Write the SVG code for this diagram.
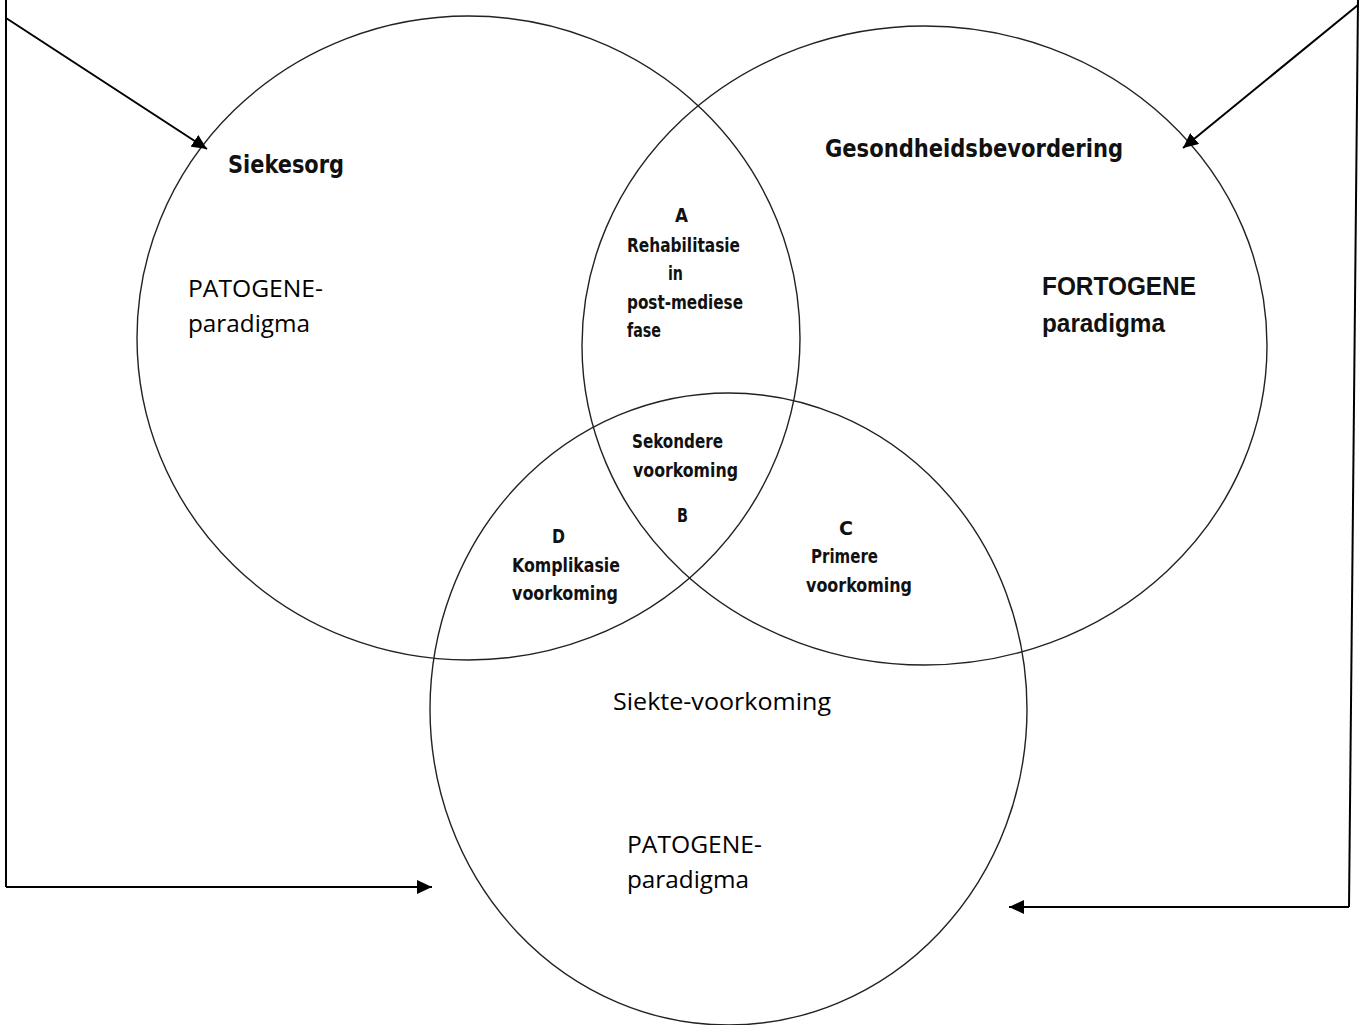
<svg xmlns="http://www.w3.org/2000/svg" width="1361" height="1025" viewBox="0 0 1361 1025">
<style>
.c{fill:none;stroke:#222;stroke-width:1.4}
.l{fill:none;stroke:#000;stroke-width:2}
.h{font-family:"DejaVu Sans Condensed","DejaVu Sans",sans-serif;font-weight:bold;font-size:25px;fill:#111}
.s{font-family:"DejaVu Sans Condensed","DejaVu Sans",sans-serif;font-weight:bold;font-size:19px;fill:#111}
.p{font-family:"Open Sans","Noto Sans",sans-serif;font-size:23px;fill:#000}
.f{font-family:"Liberation Sans",Arial,sans-serif;font-weight:bold;font-size:25px;fill:#111}
</style>
<defs>
<marker id="ah" markerUnits="userSpaceOnUse" markerWidth="16" markerHeight="14" refX="15" refY="7" orient="auto">
<path d="M0,0 L15,7 L0,14 Z" fill="#000"/>
</marker>
</defs>
<g id="circle-siekesorg">
<ellipse class="c" cx="468.5" cy="338" rx="331.5" ry="322"/>
<text class="h" x="228" y="173" textLength="116" lengthAdjust="spacingAndGlyphs">Siekesorg</text>
<text class="p" x="188" y="297" textLength="135" lengthAdjust="spacingAndGlyphs">PATOGENE-</text>
<text class="p" x="188" y="332" textLength="122" lengthAdjust="spacingAndGlyphs">paradigma</text>
</g>
<g id="circle-gesondheidsbevordering">
<ellipse class="c" cx="924.5" cy="345.5" rx="342.5" ry="319.5"/>
<text class="h" x="825" y="157" textLength="298" lengthAdjust="spacingAndGlyphs">Gesondheidsbevordering</text>
<text class="f" x="1042" y="295" textLength="154" lengthAdjust="spacingAndGlyphs">FORTOGENE</text>
<text class="f" x="1042" y="332" textLength="123" lengthAdjust="spacingAndGlyphs">paradigma</text>
</g>
<g id="circle-siekte-voorkoming">
<ellipse class="c" cx="728.5" cy="709" rx="298.5" ry="316"/>
<text class="p" x="613" y="710" textLength="218" lengthAdjust="spacingAndGlyphs">Siekte-voorkoming</text>
<text class="p" x="627" y="853" textLength="135" lengthAdjust="spacingAndGlyphs">PATOGENE-</text>
<text class="p" x="627" y="888" textLength="122" lengthAdjust="spacingAndGlyphs">paradigma</text>
</g>
<g id="region-A">
<text class="s" x="675" y="222" textLength="13" lengthAdjust="spacingAndGlyphs">A</text>
<text class="s" x="627" y="252" textLength="113" lengthAdjust="spacingAndGlyphs">Rehabilitasie</text>
<text class="s" x="668" y="280" textLength="15" lengthAdjust="spacingAndGlyphs">in</text>
<text class="s" x="627" y="309" textLength="116" lengthAdjust="spacingAndGlyphs">post-mediese</text>
<text class="s" x="627" y="337" textLength="34" lengthAdjust="spacingAndGlyphs">fase</text>
</g>
<g id="region-B">
<text class="s" x="632" y="448" textLength="91" lengthAdjust="spacingAndGlyphs">Sekondere</text>
<text class="s" x="633" y="477" textLength="105" lengthAdjust="spacingAndGlyphs">voorkoming</text>
<text class="s" x="677" y="522" textLength="11" lengthAdjust="spacingAndGlyphs">B</text>
</g>
<g id="region-C">
<text class="s" x="839" y="535" textLength="14" lengthAdjust="spacingAndGlyphs">C</text>
<text class="s" x="811" y="563" textLength="67" lengthAdjust="spacingAndGlyphs">Primere</text>
<text class="s" x="806" y="592" textLength="106" lengthAdjust="spacingAndGlyphs">voorkoming</text>
</g>
<g id="region-D">
<text class="s" x="552" y="543" textLength="13" lengthAdjust="spacingAndGlyphs">D</text>
<text class="s" x="512" y="572" textLength="108" lengthAdjust="spacingAndGlyphs">Komplikasie</text>
<text class="s" x="512" y="600" textLength="106" lengthAdjust="spacingAndGlyphs">voorkoming</text>
</g>
<g id="connectors">
<line class="l" x1="6" y1="0" x2="6" y2="887"/>
<line class="l" x1="6" y1="18" x2="207" y2="149" marker-end="url(#ah)"/>
<line class="l" x1="6" y1="887" x2="432" y2="887" marker-end="url(#ah)"/>
<line class="l" x1="1358" y1="0" x2="1349" y2="907"/>
<line class="l" x1="1358" y1="5" x2="1183" y2="148" marker-end="url(#ah)"/>
<line class="l" x1="1349" y1="907" x2="1009" y2="907" marker-end="url(#ah)"/>
</g>
</svg>
